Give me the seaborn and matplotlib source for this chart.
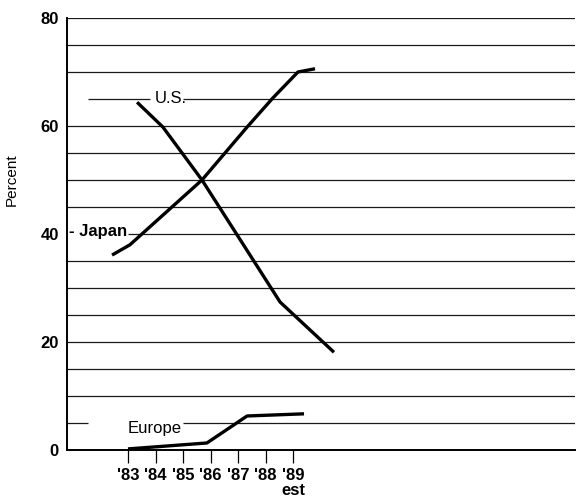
import matplotlib
matplotlib.use("Agg")
import matplotlib.pyplot as plt
import seaborn as sns
import pandas as pd

# ---- data (x in fractional years) ----
us_year = [1983.33, 1984.27, 1985.69, 1988.53, 1990.49]
us_pct = [64.4, 59.8, 50.0, 27.4, 18.1]

japan_year = [1982.42, 1983.07, 1985.69, 1987.33, 1988.27, 1989.18, 1989.80]
japan_pct = [36.1, 38.0, 50.0, 59.8, 65.2, 70.0, 70.6]

europe_year = [1983.0, 1985.87, 1987.33, 1989.40]
europe_pct = [0.2, 1.3, 6.3, 6.7]

tick_years = [1983, 1984, 1985, 1986, 1987, 1988, 1989]
tick_labels = ["'83", "'84", "'85", "'86", "'87", "'88", "'89\nest"]
y_ticks = [0, 20, 40, 60, 80]
grid_levels = list(range(5, 85, 5))

sns.set_style("white")
plt.rcParams["font.family"] = ["Liberation Sans Narrow", "Liberation Sans", "DejaVu Sans"]
plt.rcParams["text.color"] = "black"
plt.rcParams["axes.labelcolor"] = "black"
plt.rcParams["xtick.color"] = "black"
plt.rcParams["ytick.color"] = "black"

fig = plt.figure(figsize=(5.77, 4.99), dpi=100)
ax = fig.add_axes([67 / 577, 1 - 450 / 499, 508 / 577, 432 / 499])

X0 = 1983 + (67 - 128) / 27.5
X1 = 1983 + (575 - 128) / 27.5


def px2yr(px):
    return 1983 + (px - 128) / 27.5


ax.set_xlim(X0, X1)
ax.set_ylim(0, 80)

# gridlines (with gaps where labels sit)
gcol = "#1a1a1a"
glw = 0.9
for lv in grid_levels:
    if lv == 65:
        segs = [(px2yr(88), px2yr(150)), (px2yr(183), X1)]
    elif lv == 40:
        segs = [(px2yr(128), X1)]
    elif lv == 5:
        segs = [(X0, px2yr(88)), (px2yr(183), X1)]
    else:
        segs = [(X0, X1)]
    for a, b in segs:
        ax.hlines(lv, a, b, color=gcol, lw=glw, zorder=1)

df_us = pd.DataFrame({"year": us_year, "pct": us_pct})
df_jp = pd.DataFrame({"year": japan_year, "pct": japan_pct})
df_eu = pd.DataFrame({"year": europe_year, "pct": europe_pct})
for d in (df_us, df_jp, df_eu):
    sns.lineplot(data=d, x="year", y="pct", sort=False, color="black",
                 lw=2.4, ax=ax, zorder=3, solid_capstyle="butt")

# series labels
ax.text(px2yr(155), 64.2, "U.S.", fontsize=12, va="baseline", ha="left", color="black")
ax.text(px2yr(69), 39.6, "- Japan", fontsize=12, fontweight="bold",
        va="baseline", ha="left", color="black")
ax.text(px2yr(128), 3.1, "Europe", fontsize=12, va="baseline", ha="left", color="black")

# axes styling
for s in ("top", "right"):
    ax.spines[s].set_visible(False)
ax.spines["left"].set_color("black")
ax.spines["bottom"].set_color("black")
ax.spines["left"].set_linewidth(1.4)
ax.spines["bottom"].set_linewidth(1.4)

ax.set_xticks(tick_years)
ax.set_xticklabels(tick_labels, fontsize=12, fontweight="bold", linespacing=1.0)
ax.set_yticks(y_ticks)
ax.set_yticklabels([str(v) for v in y_ticks], fontsize=12, fontweight="bold")
ax.tick_params(axis="x", direction="out", length=9, width=0.9, pad=4,
               color="black", labelcolor="black", bottom=True)
ax.tick_params(axis="y", length=0, pad=6, labelcolor="black")

ax.set_xlabel("")
ax.set_ylabel("Percent", fontsize=11, color="black")
ax.yaxis.set_label_coords((19 - 67) / 508, (450 - 180) / 432)

fig.savefig("out.png", dpi=100)
